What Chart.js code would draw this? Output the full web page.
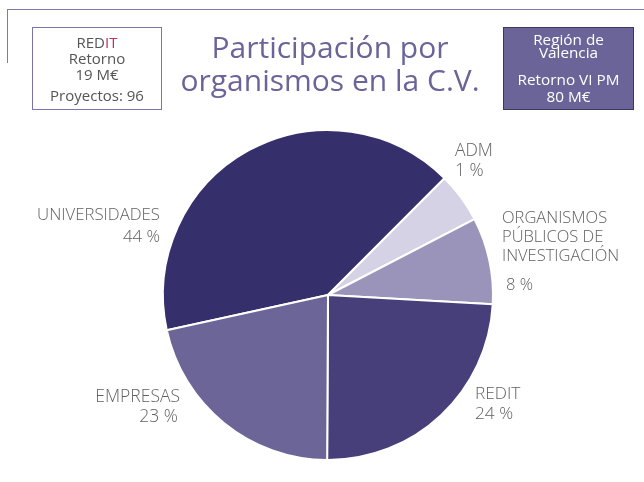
<!DOCTYPE html>
<html>
<head>
<meta charset="utf-8">
<script src="https://cdn.jsdelivr.net/npm/chart.js@4/dist/chart.umd.min.js"></script>
<style>
  html, body { margin: 0; padding: 0; background: #fff; }
  #wrap { position: relative; width: 644px; height: 482px; overflow: hidden; font-family: "Open Sans", "Noto Sans", sans-serif; }
  canvas { position: absolute; left: 0; top: 0; }
  .frameTop { position: absolute; left: 7px; top: 9px; width: 640px; height: 0; border-top: 1.5px solid #7f7aa8; }
  .frameLeft { position: absolute; left: 7px; top: 9px; width: 0; height: 54px; border-left: 1.5px solid #7f7aa8; }
  .box { position: absolute; box-sizing: border-box; text-align: center; }
  .box div { position: absolute; left: 0; right: 0; height: 16px; line-height: 16px; white-space: nowrap; }
  #boxL { left: 32px; top: 27px; width: 130px; height: 83px; border: 1.5px solid #7b74ad; color: #555; font-size: 15px; }
  #boxR { left: 503px; top: 27px; width: 131px; height: 83px; background: #6b6498; border: 1.5px solid #3a3760; color: #fff; font-size: 15.3px; }
  .red { color: #c0305a; }
  #title { position: absolute; left: 180px; top: 30px; width: 300px; text-align: center; color: #6b6498; font-size: 30px; line-height: 33px; }
  .lbl { position: absolute; color: #616161; font-size: 17.5px; line-height: 19px; font-weight: 300; white-space: nowrap; }
</style>
</head>
<body>
<div id="wrap">
  <canvas id="c" width="644" height="482"></canvas>
  <div class="frameTop"></div>
  <div class="frameLeft"></div>
  <div class="box" id="boxL">
    <div style="top:6px">RED<span class="red">IT</span></div>
    <div style="top:22px">Retorno</div>
    <div style="top:38px">19 M€</div>
    <div style="top:59px">Proyectos: 96</div>
  </div>
  <div class="box" id="boxR">
    <div style="top:3px">Región de</div>
    <div style="top:16px">Valencia</div>
    <div style="top:43px">Retorno VI PM</div>
    <div style="top:60px">80 M€</div>
  </div>
  <div id="title">Participación por<br>organismos en la C.V.</div>
  <div id="labels"></div>
</div>
<script>
const categories = ["UNIVERSIDADES", "ADM", "ORGANISMOS PÚBLICOS DE INVESTIGACIÓN", "REDIT", "EMPRESAS"];
const labelLines = [["UNIVERSIDADES"], ["ADM"], ["ORGANISMOS", "PÚBLICOS DE", "INVESTIGACIÓN"], ["REDIT"], ["EMPRESAS"]];
const percentLabels = ["44 %", "1 %", "8 %", "24 %", "23 %"];
const sliceValues = [40.9, 4.9, 8.5, 24.2, 21.5];
const sliceColors = ["#35306b", "#d5d2e5", "#9a94bb", "#463f7a", "#6c6598"];
const startAngle = 257.7;

// label placement (layout only)
const labelPos = [
  {x: 160, y: 204, align: "right", gap: 3, size: 16.8},
  {x: 455, y: 140, align: "left", gap: 1, size: 17.5},
  {x: 502, y: 207, align: "left", gap: 10, pctX: 506, size: 16.5},
  {x: 475, y: 383, align: "left", gap: 1, size: 17.3},
  {x: 180, y: 386, align: "right", gap: 1, pctX: 178, size: 17.5}
];

const lblRoot = document.getElementById("labels");
labelLines.forEach((lines, i) => {
  const p = labelPos[i];
  const d = document.createElement("div");
  d.className = "lbl";
  d.style.top = p.y + "px";
  d.style.fontSize = p.size + "px";
  d.style.textAlign = p.align;
  if (p.align === "right") d.style.right = (644 - p.x) + "px"; else d.style.left = p.x + "px";
  d.innerHTML = lines.join("<br>") + '<div style="margin-top:' + p.gap + 'px;' +
    (p.pctX ? (p.align === "right" ? "margin-right:" + (p.x - p.pctX) + "px" : "margin-left:" + (p.pctX - p.x) + "px") : "") +
    '">' + percentLabels[i] + '</div>';
  lblRoot.appendChild(d);
});

new Chart(document.getElementById("c"), {
  type: "pie",
  data: {
    labels: categories,
    datasets: [{
      data: sliceValues,
      backgroundColor: sliceColors,
      borderColor: "#ffffff",
      borderWidth: 2
    }]
  },
  options: {
    responsive: false,
    animation: false,
    rotation: startAngle,
    layout: { padding: { top: 129, bottom: 21, left: 162, right: 150 } },
    plugins: { legend: { display: false }, tooltip: { enabled: false }, title: { display: false } }
  }
});
</script>
</body>
</html>
